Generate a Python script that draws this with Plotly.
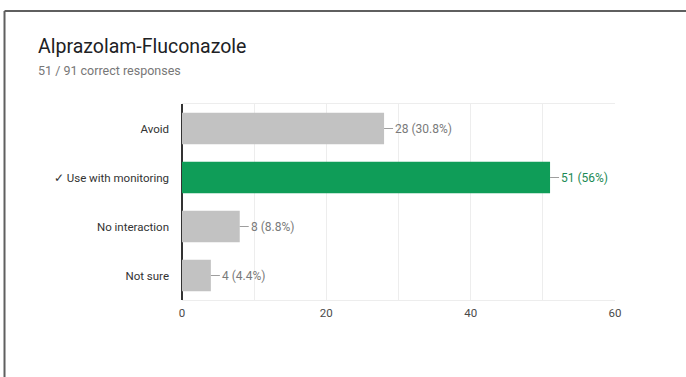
import plotly.graph_objects as go

# Survey results for one question
categories = ["Avoid", "✓ Use with monitoring", "No interaction", "Not sure"]
counts = [28, 51, 8, 4]
percent_labels = ["30.8%", "56%", "8.8%", "4.4%"]
correct_index = 1
total_responses = 91

GREEN = "#0f9d58"
GRAY_BAR = "#c2c2c2"
LABEL_GRAY = "#7a7a7a"
LABEL_GREEN = "#1b8a55"
GRID = "#ededed"
FONT = "Roboto, Arial, sans-serif"

bar_colors = [GREEN if i == correct_index else GRAY_BAR for i in range(len(categories))]

fig = go.Figure(
    go.Bar(
        x=counts,
        y=categories,
        orientation="h",
        marker=dict(color=bar_colors, line=dict(width=0)),
        width=0.64,
        hoverinfo="skip",
    )
)

shapes = []
annotations = []
for i, (cat, n, pct) in enumerate(zip(categories, counts, percent_labels)):
    color = LABEL_GREEN if i == correct_index else LABEL_GRAY
    # short leader line from the bar end to the value label
    shapes.append(dict(
        type="line", xref="x", yref="y", xsizemode="pixel", xanchor=n,
        x0=0, x1=9, y0=cat, y1=cat,
        line=dict(color="#9e9e9e", width=1),
    ))
    annotations.append(dict(
        x=n, y=cat, xref="x", yref="y", xanchor="left", yanchor="middle",
        xshift=9, showarrow=False, text=f"{n} ({pct})",
        font=dict(family=FONT, size=12, color=color),
    ))

# title block
annotations.append(dict(
    x=-0.3326, y=1.291, xref="paper", yref="paper", xanchor="left", yanchor="middle",
    xshift=-2, showarrow=False, text="Alprazolam-Fluconazole",
    font=dict(family=FONT, size=19.5, color="#202124"),
))
annotations.append(dict(
    x=-0.3326, y=1.173, xref="paper", yref="paper", xanchor="left", yanchor="middle",
    xshift=-2, showarrow=False, text=f"{counts[correct_index]} / {total_responses} correct responses",
    font=dict(family=FONT, size=12.5, color="#777777"),
))

# frame lines along the top and left edges
shapes.append(dict(type="line", xref="paper", yref="paper",
                   x0=-0.4099, x1=1.2, y0=1.4745, y1=1.4745,
                   line=dict(color="#5f5f5f", width=2)))
shapes.append(dict(type="line", xref="paper", yref="paper",
                   x0=-0.4099, x1=-0.4099, y0=1.4745, y1=-0.45,
                   line=dict(color="#5f5f5f", width=2)))

fig.update_layout(
    width=686, height=377,
    margin=dict(l=182, r=71, t=104, b=77),
    paper_bgcolor="white", plot_bgcolor="white",
    showlegend=False,
    shapes=shapes, annotations=annotations,
    bargap=0.36,
    font=dict(family=FONT, size=11, color="#444444"),
    xaxis=dict(
        range=[0, 60], tickvals=[0, 20, 40, 60],
        showgrid=True, gridcolor=GRID, gridwidth=1,
        zeroline=True, zerolinecolor="#333333", zerolinewidth=2,
        showline=True, linecolor=GRID, linewidth=1, mirror=True,
        ticks="", ticklabelstandoff=2,
        tickfont=dict(family=FONT, size=11.5, color="#4a4a4a"),
        minor=dict(dtick=10, showgrid=True, gridcolor=GRID, gridwidth=1),
        fixedrange=True,
    ),
    yaxis=dict(
        autorange="reversed", categoryorder="array", categoryarray=categories,
        ticks="", ticklabelstandoff=12, showgrid=False,
        tickfont=dict(family=FONT, size=11.5, color="#333333"),
        fixedrange=True,
    ),
)

fig.write_html("out.html", config=dict(displayModeBar=False))
